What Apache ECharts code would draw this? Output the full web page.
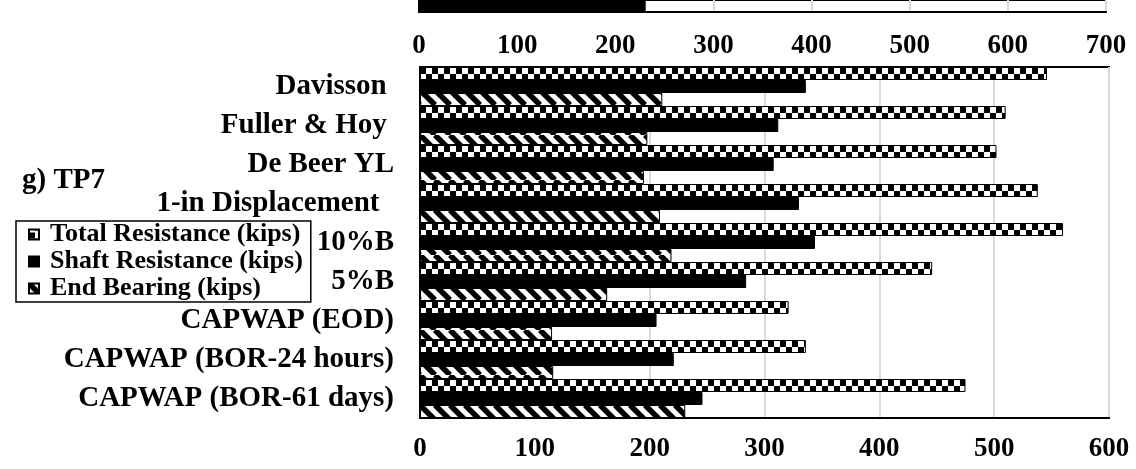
<!DOCTYPE html>
<html><head><meta charset="utf-8">
<script src="https://cdn.jsdelivr.net/npm/echarts@6/dist/echarts.min.js"></script>
<style>html,body{margin:0;padding:0;background:#fff}#c{width:1136px;height:469px}</style>
</head><body><div id="c"></div>
<script>
// Main chart (g) TP7
const categories = ['Davisson ', 'Fuller & Hoy ', 'De Beer YL', '1-in Displacement  ', '10%B', '5%B', 'CAPWAP (EOD)', 'CAPWAP (BOR-24 hours)', 'CAPWAP (BOR-61 days)'];
const totalResistance = [546, 510, 502, 538, 560, 446, 321, 336, 475];
const shaftResistance = [336, 312, 308, 330, 344, 284, 206, 221, 246];
const endBearing = [211, 198, 195, 209, 219, 163, 115, 116, 231];
const seriesNames = ['Total Resistance (kips)', 'Shaft Resistance (kips)', 'End Bearing (kips)'];
const xMax = 600, xStep = 100;
// Partial previous chart visible at the top edge
const prevCategories = [''];
const prevShaft = [231];
const prevMax = 700, prevStep = 100;

const FONT = 'Liberation Serif';

function checker() {
  const c = document.createElement('canvas'); c.width = 12; c.height = 13;
  const g = c.getContext('2d');
  g.fillStyle = '#fff'; g.fillRect(0, 0, 12, 13);
  g.fillStyle = '#000';
  g.fillRect(0, 1, 6, 6); g.fillRect(6, 7, 6, 5);
  return { image: c, repeat: 'repeat', y: 67 };
}
function diag() {
  const c = document.createElement('canvas'); c.width = 15; c.height = 15;
  const g = c.getContext('2d');
  g.fillStyle = '#fff'; g.fillRect(0, 0, 15, 15);
  g.strokeStyle = '#000'; g.lineWidth = 5.5;
  [-15, 0, 15].forEach(k => { g.beginPath(); g.moveTo(k, 0); g.lineTo(k + 15, 15); g.stroke(); });
  return { image: c, repeat: 'repeat' };
}

const chart = echarts.init(document.getElementById('c'), null, { renderer: 'canvas' });
const labelStyle = { fontFamily: FONT, fontWeight: 'bold', color: '#000' };

chart.setOption({
  animation: false,
  backgroundColor: '#fff',
  title: {
    text: 'g) TP7', left: 22, top: 166, padding: 0,
    textStyle: { fontFamily: FONT, fontWeight: 'bold', fontSize: 29, color: '#000' }
  },
  legend: {
    orient: 'vertical', left: 16, top: 221,
    padding: [0, 8, 0, 12], itemGap: 0,
    itemWidth: 10, itemHeight: 10, icon: 'rect',
    borderColor: '#000', borderWidth: 1.5,
    data: seriesNames,
    textStyle: { fontFamily: FONT, fontWeight: 'bold', fontSize: 26, lineHeight: 27, color: '#000', padding: [0, 0, 0, 6] }
  },
  grid: [
    { left: 420, right: 27, top: 67, height: 351, show: true, borderColor: '#000', borderWidth: 2 },
    { left: 419, right: 30, top: -28, height: 40, show: true, borderColor: '#000', borderWidth: 2 }
  ],
  xAxis: [
    {
      gridIndex: 0, type: 'value', min: 0, max: xMax, interval: xStep,
      axisLine: { show: true, lineStyle: { color: '#000', width: 2 } },
      axisTick: { show: false },
      splitLine: { show: true, lineStyle: { color: '#d9d9d9', width: 2 } },
      axisLabel: Object.assign({ fontSize: 27, margin: 18 }, labelStyle)
    },
    {
      gridIndex: 1, type: 'value', min: 0, max: prevMax, interval: prevStep,
      axisLine: { show: true, lineStyle: { color: '#000', width: 2 } },
      axisTick: { show: false },
      splitLine: { show: true, lineStyle: { color: '#d9d9d9', width: 2 } },
      axisLabel: Object.assign({ fontSize: 27, margin: 21 }, labelStyle)
    }
  ],
  yAxis: [
    {
      gridIndex: 0, type: 'category', data: categories, inverse: true,
      axisLine: { show: true, lineStyle: { color: '#000', width: 2 } },
      axisTick: { show: false },
      axisLabel: Object.assign({ fontSize: 29, margin: 26 }, labelStyle)
    },
    {
      gridIndex: 1, type: 'category', data: prevCategories,
      axisLine: { show: true, lineStyle: { color: '#000', width: 2 } },
      axisTick: { show: false }, axisLabel: { show: false }
    }
  ],
  series: [
    {
      name: seriesNames[0], type: 'bar', xAxisIndex: 0, yAxisIndex: 0, data: totalResistance,
      barWidth: 13, barGap: '0%',
      itemStyle: { color: checker(), borderColor: '#000', borderWidth: 1 }
    },
    {
      name: seriesNames[1], type: 'bar', xAxisIndex: 0, yAxisIndex: 0, data: shaftResistance,
      barWidth: 13, barGap: '0%',
      itemStyle: { color: '#000', borderColor: '#000', borderWidth: 1 }
    },
    {
      name: seriesNames[2], type: 'bar', xAxisIndex: 0, yAxisIndex: 0, data: endBearing,
      barWidth: 13, barGap: '0%',
      itemStyle: { color: diag(), borderColor: '#000', borderWidth: 1 }
    },
    {
      name: 'prev', type: 'bar', xAxisIndex: 1, yAxisIndex: 1, data: prevShaft,
      barWidth: 36, itemStyle: { color: '#000' }
    }
  ]
});
</script></body></html>
